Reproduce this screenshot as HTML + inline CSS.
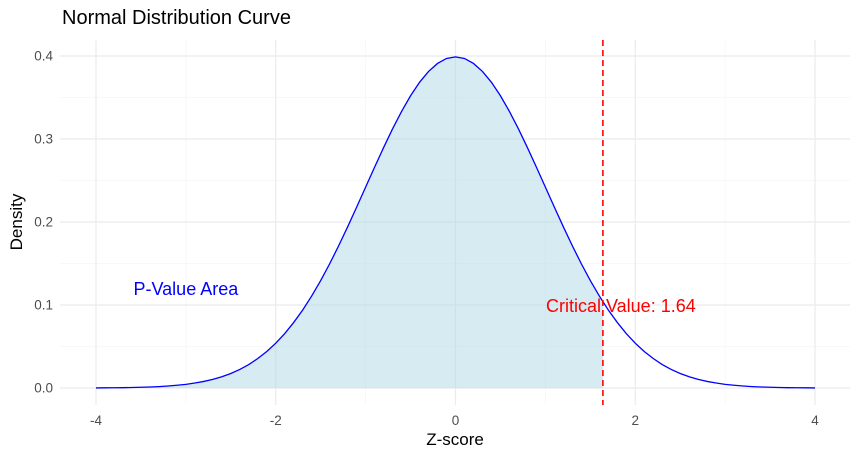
<!DOCTYPE html>
<html><head><meta charset="utf-8"><style>
body{margin:0;background:#fff;font-family:"Liberation Sans",sans-serif}
svg text{font-family:"Liberation Sans",sans-serif}
</style></head><body>
<svg id="c" width="860" height="460">
<text x="62" y="24" font-size="20" fill="#000">Normal Distribution Curve</text>
<g id="grid"></g><g id="marks"></g><g id="axes"></g>
<text x="455" y="445" font-size="17" text-anchor="middle" fill="#000">Z-score</text>
<text transform="translate(22,222) rotate(-90)" font-size="17" text-anchor="middle" fill="#000">Density</text>
</svg>
<script>
const zHalf=[0,0.1,0.2,0.3,0.4,0.5,0.6,0.7,0.8,0.9,1.0,1.1,1.2,1.3,1.4,1.5,1.6,1.7,1.8,1.9,2.0,2.1,2.2,2.3,2.4,2.5,2.6,2.7,2.8,2.9,3.0,3.1,3.2,3.3,3.4,3.5,3.6,3.7,3.8,3.9,4.0];
const densHalf=[.3989,.3970,.3910,.3814,.3683,.3521,.3332,.3123,.2897,.2661,.2420,.2179,.1942,.1714,.1497,.1295,.1109,.0940,.0790,.0656,.0540,.0440,.0355,.0283,.0224,.0175,.0136,.0104,.0079,.0060,.0044,.0033,.0024,.0017,.0012,.0009,.0006,.0004,.0003,.0002,.0001];
const criticalValue=1.64;
const xTicks=[-4,-2,0,2,4];
const xMinor=[-3,-1,1,3];
const yTicks=[0,0.1,0.2,0.3,0.4];
const yMinor=[0.05,0.15,0.25,0.35];
const NS="http://www.w3.org/2000/svg";
const X=v=>455.5+v*89.875, Y=v=>388-v*830;
function mk(tag,at,parent){const e=document.createElementNS(NS,tag);for(const k in at)e.setAttribute(k,at[k]);document.getElementById(parent).appendChild(e);return e;}
const zs=[],ds=[];
for(let i=zHalf.length-1;i>0;i--){zs.push(-zHalf[i]);ds.push(densHalf[i]);}
for(let i=0;i<zHalf.length;i++){zs.push(zHalf[i]);ds.push(densHalf[i]);}
xMinor.forEach(v=>{const l=mk('line',{x1:X(v),x2:X(v),y1:40,y2:405,stroke:'#f2f2f2','stroke-width':0.6},'grid');});
yMinor.forEach(v=>{const l=mk('line',{x1:60,x2:850,y1:Y(v),y2:Y(v),stroke:'#f2f2f2','stroke-width':0.6},'grid');});
xTicks.forEach(v=>{const l=mk('line',{x1:X(v),x2:X(v),y1:40,y2:405,stroke:'#ebebeb','stroke-width':1.2},'grid');
 const t=mk('text',{x:X(v),y:425,'font-size':13.5,'text-anchor':'middle',fill:'#4d4d4d'},'axes');t.textContent=v;});
yTicks.forEach(v=>{const l=mk('line',{x1:60,x2:850,y1:Y(v),y2:Y(v),stroke:'#ebebeb','stroke-width':1.2},'grid');
 const t=mk('text',{x:53,y:Y(v)+4.5,'font-size':13.5,'text-anchor':'end',fill:'#4d4d4d'},'axes');t.textContent=v.toFixed(1);});
let pts=[];
for(let i=0;i<zs.length;i++){if(zs[i]<=criticalValue)pts.push([zs[i],ds[i]]);else{const p=zs[i-1],q=zs[i];const f=(criticalValue-p)/(q-p);pts.push([criticalValue,ds[i-1]+f*(ds[i]-ds[i-1])]);break;}}
let d='M'+X(pts[0][0])+','+Y(0);pts.forEach(p=>d+=' L'+X(p[0])+','+Y(p[1]));d+=' L'+X(criticalValue)+','+Y(0)+'Z';
const area=mk('path',{d:d,fill:'#add8e6','fill-opacity':0.5},'marks');


let ld='';zs.forEach((z,i)=>ld+=(i?' L':'M')+X(z)+','+Y(ds[i]));
const curve=mk('path',{d:ld,fill:'none',stroke:'#0000ff','stroke-width':1.3},'marks');


const cl=mk('line',{x1:X(criticalValue),x2:X(criticalValue),y1:40,y2:405,stroke:'#ff0000','stroke-width':1.6,'stroke-dasharray':'6,4'},'marks');


const t1=mk('text',{x:X(-3.0),y:Y(0.1)-10,'font-size':18,'text-anchor':'middle',fill:'#0000ff'},'marks');t1.textContent='P-Value Area';


const t2=mk('text',{x:X(1.84),y:Y(0.1)+7,'font-size':18,'text-anchor':'middle',fill:'#ff0000'},'marks');t2.textContent='Critical Value: 1.64';


</script>
</body></html>
